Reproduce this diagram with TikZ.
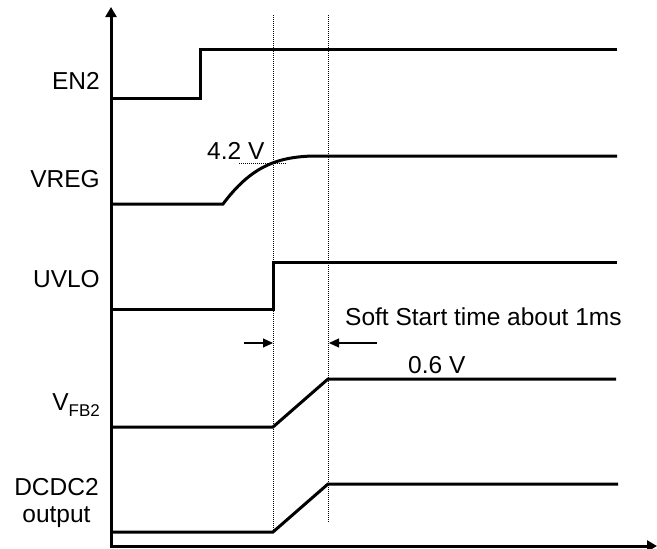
\documentclass[tikz,border=0pt]{standalone}
\usepackage{fontspec}
\setmainfont{Liberation Sans}
\usetikzlibrary{arrows.meta}

\tikzset{
  sig/.style={line width=3pt},
  axis/.style={line width=3pt, -{Triangle[length=10pt,width=11pt]}},
  guide/.style={line width=0.8pt, dash pattern=on 1pt off 1pt},
  mark arrow/.style={line width=1.2pt, -{Triangle[length=10pt,width=9pt]}},
  lbl/.style={inner sep=0pt, font=\fontsize{24.5}{28}\selectfont}
}

\begin{document}
\begin{tikzpicture}[x=1pt, y=-1pt]
\useasboundingbox (0,0) rectangle (657,549);

% axes
\draw[axis] (111,547.5) -- (111,7);
\draw[axis] (109.5,546) -- (657,546);

% guide lines
\foreach \x/\yb in {273/532,328/523} {\draw[guide] (\x,15) -- (\x,\yb);}
\draw[guide] (239,163) -- (287,163);

% signals
\draw[sig] (112,98) -- (200,98) -- (200,49) -- (617,49);
\draw[sig] (112,204) -- (223,204) .. controls (250,168) and (275,157) .. (313,156) -- (617,156);
\draw[sig] (112,309) -- (273,309) -- (273,262) -- (617,262);
\draw[sig] (112,427) -- (273,427) -- (328,379) -- (616,379);
\draw[sig] (112,532) -- (273,532) -- (328,484) -- (618,484);

% soft start markers
\draw[mark arrow] (244,343) -- (273,343);
\draw[mark arrow] (377,343) -- (329,343);

% labels
\node[lbl, anchor=base east] (en) at (100,89) {EN2};
\node[lbl, anchor=base east] (vreg) at (100,187) {VREG};
\node[lbl, anchor=base east] (uvlo) at (100,287) {UVLO};
\node[lbl, anchor=base east] (vfb) at (100,410) {V\raisebox{-6pt}{\fontsize{17}{17}\selectfont FB2}};
\node[lbl, anchor=base] (dcdc) at (56.5,495) {DCDC2};
\node[lbl, anchor=base] (dcdcout) at (56.5,522) {output};
\node[lbl, anchor=base west] (vth) at (207,159) {4.2 V};
\node[lbl, anchor=base west] (soft) at (345,325) {Soft Start time about 1ms};
\node[lbl, anchor=base west] (vref) at (408,373) {0.6 V};

\end{tikzpicture}
\end{document}
